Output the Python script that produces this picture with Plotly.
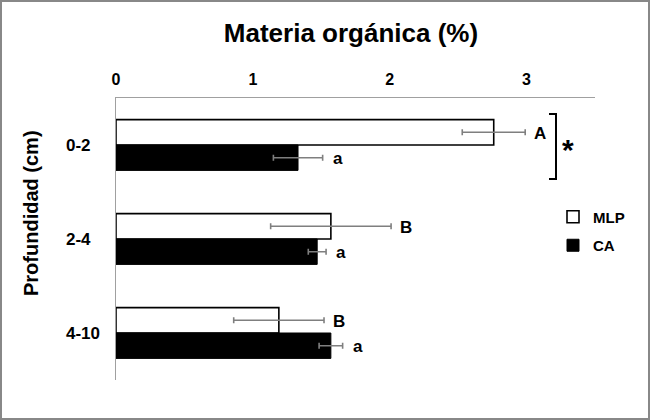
import plotly.graph_objects as go

# Profundidad (cm) y materia orgánica (%)
depths = ["0-2", "2-4", "4-10"]
mlp_values = [2.76, 1.57, 1.19]
mlp_errors = [0.23, 0.44, 0.33]
ca_values = [1.33, 1.47, 1.57]
ca_errors = [0.18, 0.065, 0.086]
mlp_letters = ["A", "B", "B"]
ca_letters = ["a", "a", "a"]

FONT = "Liberation Sans"
W, H = 650, 420
L, R, T, B = 116, 55, 98, 40
pw, ph = W - L - R, H - T - B


def px(x):
    return (x - L) / pw


def py(y):
    return (H - B - y) / ph


fig = go.Figure()
fig.add_trace(go.Bar(y=depths, x=mlp_values, name="MLP", orientation="h", legendgroup="mlp",
                     marker=dict(color="white", line=dict(color="black", width=1.6)),
                     error_x=dict(type="data", array=mlp_errors, color="#7f7f7f", thickness=1.6, width=3)))
fig.add_trace(go.Bar(y=depths, x=ca_values, name="CA", orientation="h", legendgroup="ca",
                     marker=dict(color="black", line=dict(color="black", width=1)),
                     error_x=dict(type="data", array=ca_errors, color="#7f7f7f", thickness=1.6, width=3)))

annotations = []
# letras de significancia al final de cada barra de error
for i, d in enumerate(depths):
    annotations.append(dict(x=mlp_values[i] + mlp_errors[i], y=d, text=mlp_letters[i], xref="x", yref="y",
                            xanchor="left", yshift=12, xshift=7, showarrow=False,
                            font=dict(family=FONT, size=17, color="black", weight="bold")))
    annotations.append(dict(x=ca_values[i] + ca_errors[i], y=d, text=ca_letters[i], xref="x", yref="y",
                            xanchor="left", yshift=-13, xshift=8, showarrow=False,
                            font=dict(family=FONT, size=17, color="black", weight="bold")))
    # etiquetas de categoría alineadas a la izquierda
    annotations.append(dict(x=px(64), y=d, text=d, xref="paper", yref="y", xanchor="left",
                            showarrow=False, font=dict(family=FONT, size=17, color="black", weight="bold")))

annotations.append(dict(x=px(568), y=py(149), text="*", xref="paper", yref="paper", showarrow=False,
                        xanchor="center", yanchor="middle",
                        font=dict(family=FONT, size=30, color="black", weight="bold")))
annotations.append(dict(x=px(31), y=py(213), text="Profundidad (cm)", xref="paper", yref="paper",
                        textangle=-90, showarrow=False, xanchor="center", yanchor="middle",
                        font=dict(family=FONT, size=20, color="black", weight="bold")))

shapes = [
    # corchete
    dict(type="path", xref="paper", yref="paper",
         path=f"M {px(549)} {py(114)} L {px(556)} {py(114)} L {px(556)} {py(179)} L {px(549)} {py(179)}",
         line=dict(color="black", width=2)),
    # borde de la imagen
    dict(type="rect", xref="paper", yref="paper", x0=px(1), x1=px(649), y0=py(419), y1=py(1),
         line=dict(color="#888888", width=2)),
]

fig.update_layout(
    width=W, height=H,
    margin=dict(l=L, r=R, t=T, b=B),
    paper_bgcolor="white", plot_bgcolor="white",
    barmode="group", bargap=0.46, bargroupgap=0,
    title=dict(text="Materia orgánica (%)", x=351 / W, xanchor="center", y=1 - 33 / H, yanchor="middle",
               font=dict(family=FONT, size=26, color="black", weight="bold")),
    legend=dict(x=px(553), y=py(231), xanchor="left", yanchor="middle", bgcolor="rgba(0,0,0,0)",
                itemwidth=30, tracegroupgap=6,
                font=dict(family=FONT, size=15, color="black", weight="bold")),
    annotations=annotations,
    shapes=shapes,
)
fig.update_xaxes(range=[0, 3.5], side="top", tickvals=[0, 1, 2, 3], showgrid=False, zeroline=False,
                 showline=True, linecolor="#a0a0a0", linewidth=1, ticks="", ticklabelstandoff=6,
                 tickfont=dict(family=FONT, size=16, color="black", weight="bold"))
fig.update_yaxes(autorange="reversed", showgrid=False, zeroline=False, showticklabels=False,
                 showline=True, linecolor="#a0a0a0", linewidth=1, ticks="")

# quitar el margen del body para que la figura ocupe toda la ventana
fig.write_html("out.html", config={"displayModeBar": False},
               post_script="document.body.style.margin='0';")
